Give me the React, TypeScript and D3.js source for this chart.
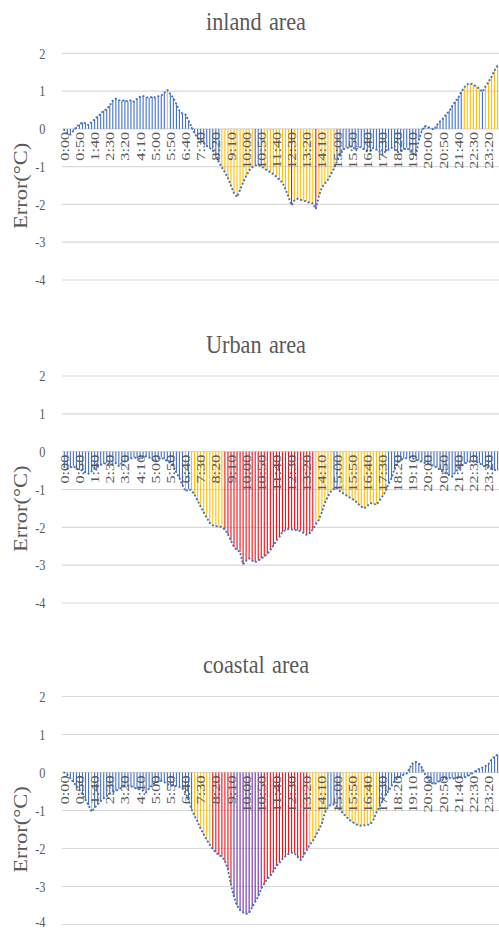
import React from "react";
import * as d3 from "d3";

// ---- data (10-minute steps, 0:00 .. 23:50) ----
const categories: string[] = d3.range(144).map(
  (i) => `${Math.floor(i / 6)}:${String((i % 6) * 10).padStart(2, "0")}`
);

const tickLabels: string[] = [
  "0:00", "0:50", "1:40", "2:30", "3:20", "4:10", "5:00", "5:50", "6:40", "7:30",
  "8:20", "9:10", "10:00", "10:50", "11:40", "12:30", "13:20", "14:10", "15:00", "15:50",
  "16:40", "17:30", "18:20", "19:10", "20:00", "20:50", "21:40", "22:30", "23:20",
];

const yTicks: number[] = [2, 1, 0, -1, -2, -3, -4];

const inland: number[] = [
  -0.03, -0.12, -0.15, -0.05, 0.05, 0.12, 0.17, 0.15, 0.1, 0.18,
  0.25, 0.33, 0.4, 0.48, 0.52, 0.62, 0.75, 0.8, 0.76, 0.74,
  0.76, 0.72, 0.76, 0.72, 0.8, 0.85, 0.87, 0.84, 0.82, 0.85,
  0.83, 0.86, 0.88, 0.95, 1.03, 0.92, 0.82, 0.65, 0.48, 0.4,
  0.38, 0.22, 0.05, -0.12, -0.25, -0.32, -0.38, -0.45, -0.5, -0.58,
  -0.68, -0.88, -1.02, -1.15, -1.3, -1.5, -1.7, -1.8, -1.62, -1.42,
  -1.25, -1.1, -1.02, -0.97, -0.95, -0.98, -1.05, -1.1, -1.15, -1.2,
  -1.27, -1.35, -1.42, -1.6, -1.8, -2.02, -1.88, -1.85, -1.88, -1.9,
  -1.92, -1.96, -1.97, -2.12, -1.78, -1.55, -1.45, -1.35, -1.2, -1.05,
  -0.85, -0.7, -0.55, -0.5, -0.5, -0.45, -0.55, -0.5, -0.48, -0.55,
  -0.6, -0.58, -0.5, -0.55, -0.6, -0.68, -0.6, -0.55, -0.5, -0.55,
  -0.62, -0.6, -0.55, -0.5, -0.58, -0.65, -0.72, -0.3, -0.05, 0.08,
  0.05, 0.02, -0.02, 0.1, 0.2, 0.28, 0.38, 0.47, 0.6, 0.72,
  0.82, 0.98, 1.1, 1.18, 1.2, 1.17, 1.12, 1.06, 0.98, 1.12,
  1.25, 1.38, 1.55, 1.68,
];

const urban: number[] = [
  -0.4, -0.45, -0.42, -0.38, -0.45, -0.48, -0.5, -0.55, -0.58, -0.52,
  -0.45, -0.4, -0.35, -0.32, -0.3, -0.33, -0.35, -0.3, -0.38, -0.3,
  -0.25, -0.2, -0.18, -0.15, -0.17, -0.2, -0.15, -0.12, -0.15, -0.2,
  -0.25, -0.2, -0.15, -0.2, -0.25, -0.3, -0.4, -0.55, -0.7, -0.88,
  -1.05, -0.99, -1.02, -1.14, -1.3, -1.45, -1.6, -1.75, -1.88, -1.95,
  -1.97, -1.98, -1.99, -2.06, -2.18, -2.35, -2.52, -2.6, -2.65, -2.98,
  -2.88, -2.82, -2.88, -2.92, -2.88, -2.82, -2.77, -2.7, -2.6, -2.48,
  -2.35, -2.25, -2.12, -2.07, -2.05, -2.06, -2.06, -2.08, -2.1, -2.15,
  -2.2, -2.15, -2.05, -1.92, -1.8, -1.6, -1.35, -1.18, -1.05, -0.98,
  -0.96, -1.05, -1.1, -1.15, -1.2, -1.25, -1.3, -1.38, -1.45, -1.5,
  -1.43, -1.36, -1.38, -1.4, -1.3, -1.18, -1.05, -0.85, -0.7, -0.45,
  -0.3, -0.22, -0.18, -0.17, -0.16, -0.18, -0.21, -0.24, -0.27, -0.3,
  -0.32, -0.35, -0.38, -0.42, -0.48, -0.53, -0.58, -0.62, -0.66, -0.55,
  -0.45, -0.38, -0.32, -0.28, -0.26, -0.26, -0.27, -0.3, -0.36, -0.4,
  -0.43, -0.46, -0.48, -0.5,
];

const coastal: number[] = [
  0, -0.06, -0.15, -0.26, -0.35, -0.45, -0.58, -0.72, -0.86, -1.03,
  -0.93, -0.84, -0.76, -0.68, -0.62, -0.56, -0.52, -0.48, -0.44, -0.4,
  -0.36, -0.35, -0.36, -0.4, -0.43, -0.45, -0.48, -0.52, -0.42, -0.33,
  -0.27, -0.24, -0.22, -0.25, -0.3, -0.34, -0.35, -0.36, -0.38, -0.42,
  -0.53, -0.72, -0.97, -1.14, -1.3, -1.48, -1.63, -1.77, -1.9, -2.02,
  -2.1, -2.17, -2.22, -2.33, -2.55, -2.95, -3.28, -3.5, -3.62, -3.68,
  -3.72, -3.7, -3.54, -3.4, -3.26, -3.06, -2.92, -2.8, -2.72, -2.6,
  -2.46, -2.38, -2.28, -2.2, -2.14, -2.11, -2.13, -2.22, -2.3, -2.18,
  -2.04, -1.9, -1.8, -1.66, -1.5, -1.35, -1.05, -0.92, -0.84, -0.84,
  -0.9, -0.98, -1.08, -1.16, -1.24, -1.3, -1.35, -1.39, -1.4, -1.39,
  -1.38, -1.36, -1.25, -1.05, -0.9, -0.75, -0.6, -0.48, -0.35, -0.22,
  -0.15, -0.1, -0.06, -0.03, 0.12, 0.25, 0.28, 0.24, 0.13, -0.04,
  -0.18, -0.26, -0.31, -0.26, -0.22, -0.19, -0.17, -0.14, -0.15, -0.16,
  -0.14, -0.13, -0.13, -0.1, -0.05, 0.0, 0.06, 0.1, 0.13, 0.17,
  0.22, 0.35, 0.42, 0.47,
];

const titles: string[] = ["inland area", "Urban area", "coastal area"];

// ---- style ----
const W = 499;
const H = 929;
const SERIF = "'Times New Roman', 'Liberation Serif', serif";
const TEXT = "#595959";
const GRID = "#d9d9d9";
const BLUE = "#4472C4";
const YELLOW = "#FFC000";
const RED = "#E8141C";
const PURPLE = "#7030A0";

const colorFor = (v: number) => {
  const a = Math.abs(v);
  if (a >= 3) return PURPLE;
  if (a >= 2) return RED;
  if (a >= 1) return YELLOW;
  return BLUE;
};

const panels = [
  { title: titles[0], data: inland, top: 53.3, bottom: 280 },
  { title: titles[1], data: urban, top: 376, bottom: 603 },
  { title: titles[2], data: coastal, top: 696.5, bottom: 924.5 },
];

const X0 = 62.8;
const STEP = 3.03;

function Panel({ p }: { p: typeof panels[number] }) {
  const x = d3
    .scaleBand<string>()
    .domain(categories)
    .range([X0, X0 + STEP * categories.length])
    .padding(0);
  const bw = x.bandwidth();
  const cx = (c: string) => (x(c) as number) + bw / 2;
  const y = d3.scaleLinear().domain([-4, 2]).range([p.bottom, p.top]);
  const y0 = y(0);
  const line = d3
    .line<number>()
    .x((_, i) => cx(categories[i]))
    .y((v) => y(v));

  return (
    <g>
      <text
        transform={`translate(256,${p.top - 23.5}) scale(0.89,1)`}
        textAnchor="middle"
        fontFamily={SERIF}
        fontSize={25}
        fill={TEXT}
        style={{ wordSpacing: "2px" }}
      >
        {p.title}
      </text>
      {yTicks.map((t) => (
        <g key={t}>
          <line x1={62} x2={W + 2} y1={y(t)} y2={y(t)} stroke={GRID} strokeWidth={1.2} />
          <text
            transform={`translate(45.5,${Math.min(y(t), 921.5)}) scale(0.82,1)`}
            textAnchor="end"
            dy="0.35em"
            fontFamily={SERIF}
            fontSize={15}
            fill={TEXT}
          >
            {String(t)}
          </text>
        </g>
      ))}
      <text
        transform={`translate(26.5,${y0 + 57}) rotate(-90) scale(1,0.82)`}
        textAnchor="middle"
        fontFamily={SERIF}
        fontSize={22.5}
        fill={TEXT}
      >
        Error(°C)
      </text>
      {p.data.map((v, i) => {
        const yy = y(v);
        return (
          <rect
            key={i}
            x={cx(categories[i]) - 0.55}
            width={1.1}
            y={Math.min(yy, y0)}
            height={Math.abs(yy - y0)}
            fill={colorFor(v)}
          />
        );
      })}
      <path
        d={line(p.data) || ""}
        fill="none"
        stroke={BLUE}
        strokeWidth={2.1}
        strokeLinecap="round"
        strokeDasharray="0.1 3.8"
      />
      {tickLabels.map((lab) => (
        <text
          key={lab}
          transform={`translate(${cx(lab)},${y0 + 3}) rotate(-90) scale(1.25,1)`}
          textAnchor="end"
          dy="0.35em"
          fontFamily={SERIF}
          fontSize={13}
          fill={TEXT}
        >
          {lab}
        </text>
      ))}
    </g>
  );
}

export default function App() {
  return (
    <svg
      width={W}
      height={H}
      viewBox={`0 0 ${W} ${H}`}
      style={{ position: "absolute", left: 0, top: 0, display: "block", background: "#fff" }}
    >
      <rect x={0} y={0} width={W} height={H} fill="#fff" />
      {panels.map((p) => (
        <Panel key={p.title} p={p} />
      ))}
    </svg>
  );
}
